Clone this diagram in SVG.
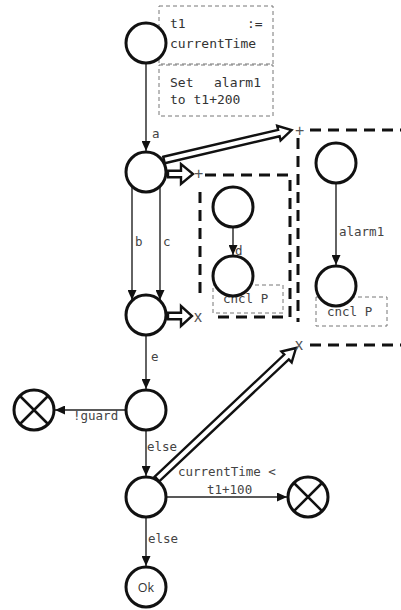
<svg xmlns="http://www.w3.org/2000/svg" width="401" height="610" viewBox="0 0 401 610">
  <style>
    .node { fill: #fff; stroke: #111; stroke-width: 3; }
    .xmark { stroke: #111; stroke-width: 2.5; }
    .edge { stroke: #222; stroke-width: 1.4; fill: none; }
    .fat { fill: #fff; stroke: #111; stroke-width: 2.4; stroke-linejoin: miter; }
    .note { fill: none; stroke: #777; stroke-width: 1; stroke-dasharray: 4 3; }
    .region { fill: none; stroke: #111; stroke-width: 3; stroke-dasharray: 11 7; }
    .lbl { font-family: "DejaVu Sans Mono", "Liberation Mono", monospace; font-size: 12.5px; fill: #444; }
    .big { font-size: 13px; fill: #333; }
    .mark { font-family: "Liberation Sans", Arial, sans-serif; font-size: 16px; fill: #555; }
    .ok { font-family: "Open Sans", "Liberation Sans", sans-serif; font-size: 12.5px; fill: #333; }
  </style>
  <defs>
    <marker id="arr" markerUnits="userSpaceOnUse" markerWidth="10" markerHeight="9" refX="10" refY="4.5" orient="auto">
      <path d="M0,0 L10,4.5 L0,9 z" fill="#111"/>
    </marker>
  </defs>

  <!-- region boxes (dashed) -->
  <g id="region-inner">
    <path class="region" d="M205,175 H290 V317 H213 M200,192 V300"/>
  </g>
  <g id="region-outer">
    <path class="region" d="M310,130 H401 M298,138 V322 M310,345 H401"/>
  </g>

  <!-- notes -->
  <g id="note-init">
    <rect class="note" x="159" y="6" width="114" height="58"/>
    <text class="lbl big"><tspan x="170" y="28">t1</tspan><tspan x="247" y="28">:=</tspan></text>
    <text class="lbl big" x="170" y="48">currentTime</text>
  </g>
  <g id="note-alarm">
    <rect class="note" x="159" y="65" width="114" height="51"/>
    <text class="lbl big"><tspan x="170" y="87">Set</tspan><tspan x="214" y="87">alarm1</tspan></text>
    <text class="lbl big" x="170" y="104">to t1+200</text>
  </g>
  <g id="note-cancel-1">
    <rect class="note" x="213" y="285" width="70" height="28"/>
    <text class="lbl" x="223" y="303">cncl P</text>
  </g>
  <g id="note-cancel-2">
    <rect class="note" x="316" y="297" width="71" height="29"/>
    <text class="lbl" x="327" y="316">cncl P</text>
  </g>

  <!-- connectors -->
  <g id="connectors">
    <line class="edge" x1="146" y1="63" x2="146" y2="151" marker-end="url(#arr)"/>
    <text class="lbl" x="152" y="138">a</text>

    <line class="edge" x1="132" y1="186" x2="132" y2="300" marker-end="url(#arr)"/>
    <text class="lbl" x="135" y="246">b</text>
    <line class="edge" x1="160" y1="186" x2="160" y2="300" marker-end="url(#arr)"/>
    <text class="lbl" x="163" y="246">c</text>

    <line class="edge" x1="146" y1="336" x2="146" y2="389" marker-end="url(#arr)"/>
    <text class="lbl" x="151" y="361">e</text>

    <line class="edge" x1="126" y1="410" x2="55" y2="410" marker-end="url(#arr)"/>
    <text class="lbl" x="73" y="420">!guard</text>

    <line class="edge" x1="146" y1="430" x2="146" y2="476" marker-end="url(#arr)"/>
    <text class="lbl" x="147" y="451">else</text>

    <line class="edge" x1="166" y1="497" x2="287" y2="497" marker-end="url(#arr)"/>
    <text class="lbl" x="178" y="476">currentTime &lt;</text>
    <text class="lbl" x="207" y="494">t1+100</text>

    <line class="edge" x1="146" y1="517" x2="146" y2="566" marker-end="url(#arr)"/>
    <text class="lbl" x="148" y="543">else</text>

    <line class="edge" x1="233" y1="228" x2="233" y2="255" marker-end="url(#arr)"/>
    <text class="lbl" x="235" y="255">d</text>

    <line class="edge" x1="336" y1="184" x2="336" y2="265" marker-end="url(#arr)"/>
    <text class="lbl" x="339" y="236">alarm1</text>

    <!-- hollow arrows: fork / join of regions -->
    <polygon class="fat" transform="translate(168,174)" points="0,-3.3 13,-3.3 13,-10 25,0 13,10 13,3.3 0,3.3"/>
    <polygon class="fat" transform="translate(168,316)" points="0,-3.3 13,-3.3 13,-10 24,0 13,10 13,3.3 0,3.3"/>
    <polygon class="fat" transform="translate(164,160) rotate(-13.2)" points="0,-3.3 118,-3.3 118,-7.5 131,0 118,7.5 118,3.3 0,3.3"/>
    <polygon class="fat" transform="translate(157,479) rotate(-43.3)" points="0,-3.3 178,-3.3 178,-7.5 191,0 178,7.5 178,3.3 0,3.3"/>
    <text class="mark" x="194" y="179">+</text>
    <text class="mark" x="295" y="136">+</text>
    <text class="mark" x="194" y="322">x</text>
    <text class="mark" x="295" y="350">x</text>
  </g>

  <!-- nodes -->
  <g id="n-start"><circle class="node" cx="146" cy="43" r="20"/></g>
  <g id="n-fork"><circle class="node" cx="146" cy="172" r="20"/></g>
  <g id="n-join"><circle class="node" cx="146" cy="315" r="20"/></g>
  <g id="n-guard"><circle class="node" cx="146" cy="410" r="20"/></g>
  <g id="n-check"><circle class="node" cx="146" cy="497" r="20"/></g>
  <g id="n-ok">
    <circle class="node" cx="146" cy="587" r="20"/>
    <text class="ok" x="146" y="592" text-anchor="middle">Ok</text>
  </g>
  <g id="n-fail-guard">
    <circle class="node" cx="34" cy="410" r="20"/>
    <path class="xmark" d="M20,396 L48,424 M48,396 L20,424"/>
  </g>
  <g id="n-fail-time">
    <circle class="node" cx="308" cy="497" r="20"/>
    <path class="xmark" d="M294,483 L322,511 M322,483 L294,511"/>
  </g>
  <g id="n-p1"><circle class="node" cx="233" cy="207" r="20"/></g>
  <g id="n-p2"><circle class="node" cx="233" cy="276" r="20"/></g>
  <g id="n-q1"><circle class="node" cx="336" cy="163" r="20"/></g>
  <g id="n-q2"><circle class="node" cx="336" cy="286" r="20"/></g>
</svg>
